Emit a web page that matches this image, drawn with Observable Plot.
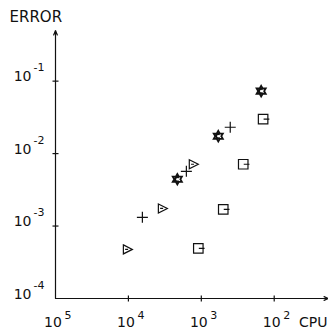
<!DOCTYPE html>
<html><head><meta charset="utf-8">
<script src="https://cdn.jsdelivr.net/npm/d3@7"></script>
<script src="https://cdn.jsdelivr.net/npm/@observablehq/plot@0.6"></script>
<style>body{margin:0;background:#fff}</style>
</head><body><div id="chart"></div>
<script>
// data
const triCpu = [10330, 3420, 1288];
const triErr = [0.000476, 0.00175, 0.00713];
const plusCpu = [6430, 1603, 401];
const plusErr = [0.00132, 0.0057, 0.0231];
const starCpu = [2133, 585, 151];
const starErr = [0.00442, 0.0174, 0.0728];
const sqCpu = [1099, 500, 266, 142];
const sqErr = [0.000491, 0.0017, 0.00713, 0.0299];
const xTicks = [1e5, 1e4, 1e3, 1e2];
const xExp = ["5", "4", "3", "2"];
const yTicks = [1e-1, 1e-2, 1e-3, 1e-4];
const yExp = ["-1", "-2", "-3", "-4"];
const xDomain = [1e5, 18];
const yDomain = [1e-4, 0.5];

const ink = "#111";
const rad = (s) => Math.sqrt(s / Math.PI);
const symTri = {draw(c, s) { const r = rad(s);
  c.moveTo(-0.8 * r, -0.9 * r); c.lineTo(r, 0); c.lineTo(-0.8 * r, 0.9 * r); c.closePath();
  c.moveTo(-0.45 * r, 0); c.lineTo(0.15 * r, 0); }};
const symSq = {draw(c, s) { const r = rad(s), h = 0.95 * r;
  c.moveTo(-h, -h); c.lineTo(h, -h); c.lineTo(h, h); c.lineTo(-h, h); c.closePath();
  c.moveTo(0.1 * r, 0); c.lineTo(1.25 * r, 0); }};
const symPlus = {draw(c, s) { const r = rad(s) * 1.1;
  c.moveTo(-r, 0); c.lineTo(r, 0); c.moveTo(0, -r); c.lineTo(0, r); }};
const symStar = {draw(c, s) { const r = rad(s), R = 1.05 * r, ri = R / Math.sqrt(3);
  for (let k = 0; k < 12; k++) {
    const a = -Math.PI / 2 + k * Math.PI / 6, rr = k % 2 ? ri : R;
    const px = rr * Math.cos(a), py = rr * Math.sin(a);
    k ? c.lineTo(px, py) : c.moveTo(px, py);
  }
  c.closePath();
  const rc = 0.42 * r;
  c.moveTo(rc * Math.cos(Math.PI / 4), rc * Math.sin(Math.PI / 4));
  c.arc(0, 0, rc, Math.PI / 4, 7 * Math.PI / 4); }};
const tickH = {draw(c) { c.moveTo(-3, 0); c.lineTo(3, 0); }};
const tickV = {draw(c) { c.moveTo(0, -3); c.lineTo(0, 3); }};

const series = (xs, ys) => xs.map((x, i) => ({cpu: x, err: ys[i]}));
const tri = series(triCpu, triErr), plus = series(plusCpu, plusErr),
      star = series(starCpu, starErr), sq = series(sqCpu, sqErr);

const chart = Plot.plot({
  width: 328, height: 331,
  marginLeft: 55, marginRight: 0, marginTop: 30, marginBottom: 33,
  style: {background: "#fff", fontFamily: "DejaVu Sans", color: ink},
  x: {type: "log", domain: xDomain, axis: null},
  y: {type: "log", domain: yDomain, axis: null},
  marks: [
    Plot.arrow([{x1: xDomain[0], y1: yDomain[0], x2: xDomain[0], y2: yDomain[1]}],
      {x1: "x1", y1: "y1", x2: "x2", y2: "y2", stroke: ink, strokeWidth: 1.2, headLength: 6, headAngle: 45}),
    Plot.arrow([{x1: xDomain[0], y1: yDomain[0], x2: xDomain[1], y2: yDomain[0]}],
      {x1: "x1", y1: "y1", x2: "x2", y2: "y2", stroke: ink, strokeWidth: 1.2, headLength: 6, headAngle: 45}),
    Plot.dot(yTicks.slice(0, 3), {x: () => xDomain[0], y: d => d, symbol: tickH, stroke: ink, fill: "none", strokeWidth: 1.2}),
    Plot.dot(xTicks.slice(1), {x: d => d, y: () => yDomain[0], symbol: tickV, stroke: ink, fill: "none", strokeWidth: 1.2}),
    Plot.text(yTicks, {x: () => xDomain[0], y: d => d, text: () => "10", textAnchor: "end", lineAnchor: "bottom", dx: -24, dy: 0, fontSize: 14, fill: ink}),
    Plot.text(yTicks, {x: () => xDomain[0], y: d => d, text: (d, i) => yExp[i], textAnchor: "start", lineAnchor: "bottom", dx: -22, dy: -10, fontSize: 11, fill: ink}),
    Plot.text(xTicks, {x: d => d, y: () => yDomain[0], text: () => "10", textAnchor: "middle", lineAnchor: "bottom", dx: -2.5, dy: 28, fontSize: 14, fill: ink}),
    Plot.text(xTicks, {x: d => d, y: () => yDomain[0], text: (d, i) => xExp[i], textAnchor: "start", lineAnchor: "bottom", dx: 9, dy: 20, fontSize: 11, fill: ink}),
    Plot.text(["ERROR"], {frameAnchor: "top-left", text: d => d, textAnchor: "start", lineAnchor: "bottom", dx: -46, dy: -9, fontSize: 15, fill: ink}),
    Plot.text(["CPU"], {frameAnchor: "bottom-right", text: d => d, textAnchor: "end", lineAnchor: "bottom", dx: -1, dy: 28, fontSize: 14, fill: ink}),
    Plot.dot(tri, {x: "cpu", y: "err", symbol: symTri, r: 5, stroke: ink, fill: "none", strokeWidth: 1.2}),
    Plot.dot(plus, {x: "cpu", y: "err", symbol: symPlus, r: 5, stroke: ink, fill: "none", strokeWidth: 1.2}),
    Plot.dot(star, {x: "cpu", y: "err", symbol: symStar, r: 5, stroke: ink, fill: "none", strokeWidth: 1.8}),
    Plot.dot(sq, {x: "cpu", y: "err", symbol: symSq, r: 5, stroke: ink, fill: "none", strokeWidth: 1.2})
  ]
});
document.getElementById("chart").append(chart);
</script>
</body></html>
